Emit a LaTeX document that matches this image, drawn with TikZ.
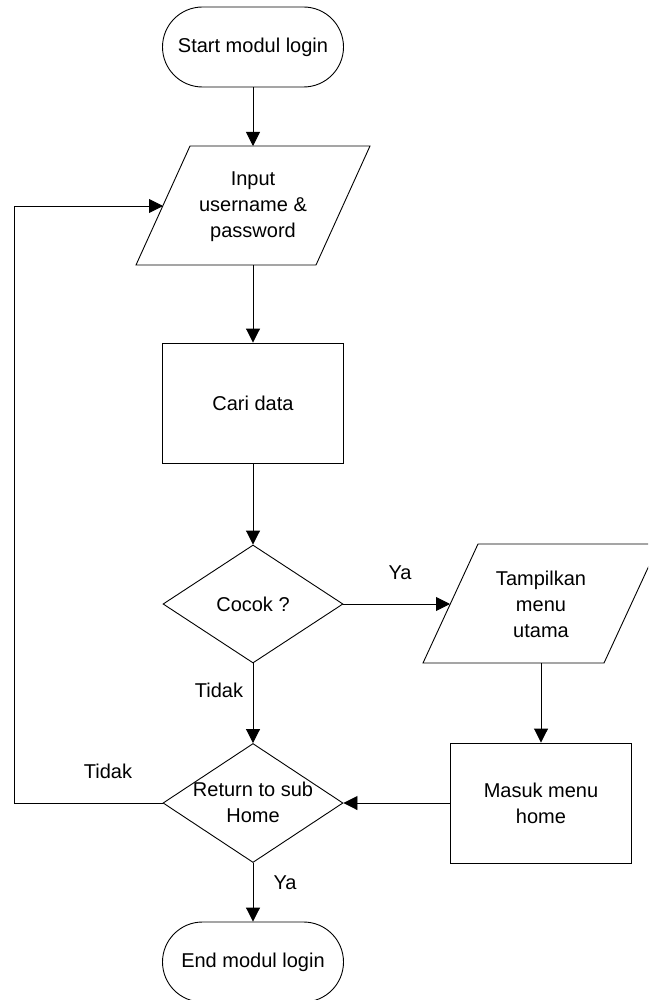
\documentclass[tikz,border=0pt]{standalone}
\usepackage{fontspec}
\setmainfont{Liberation Sans}
\usetikzlibrary{arrows.meta,shapes.geometric,shapes.misc}
\begin{document}
\begin{tikzpicture}[x=1pt,y=-1pt,
  every node/.style={font=\fontsize{20}{26}\selectfont, align=center, inner sep=0pt},
  outline/.style={draw=black, line width=0.9pt},
  term/.style={outline, rounded rectangle, minimum width=181pt, minimum height=80pt},
  proc/.style={outline, rectangle, minimum width=181pt, minimum height=120pt},
  dec/.style={outline, diamond, minimum width=180pt, minimum height=118pt},
  arr/.style={draw=black, line width=0.9pt, -{Triangle[length=14pt,width=14pt]}},
  conn/.style={draw=black, line width=0.9pt},
  lbl/.style={font=\fontsize{20}{24}\selectfont}
]
\useasboundingbox (0,0) rectangle (648,1000);
\clip (0,0) rectangle (648,1000);

% Start
\node[term] (start) at (253,47) {Start modul login};

% Input parallelogram
\draw[outline] (190,146) -- (370,146) -- (316,265) -- (136,265) -- cycle;
\node (input) at (253,207) {Input\\username \&\\password};
\coordinate (inTop) at (253,146);
\coordinate (inBot) at (253,265);
\coordinate (inLeft) at (163,206);

% Cari data
\node[proc] (cari) at (253,403) {Cari data};

% Cocok decision
\node[dec] (cocok) at (253,604) {};
\node (cocokT) at (cocok.center) {Cocok ?};

% Tampilkan parallelogram
\draw[outline] (478,544) -- (659,544) -- (604,663) -- (423,663) -- cycle;
\node (tampil) at (541,604) {Tampilkan\\menu\\utama};
\coordinate (tamLeft) at (450,604);
\coordinate (tamBot) at (541,663);

% Masuk menu home
\node[proc] (masuk) at (541,803) {Masuk menu\\home};

% Return decision
\node[dec, minimum height=119pt] (ret) at (253,803) {};
\node (retT) at (253,802) {Return to sub\\Home};

% End
\node[term] (end) at (253,962) {End modul login};

% Connectors
\draw[arr] (start.south) -- (inTop);
\draw[arr] (inBot) -- (cari.north);
\draw[arr] (cari.south) -- (cocok.north);
\draw[arr] (cocok.east) -- (tamLeft);
\draw[arr] (tamBot) -- (masuk.north);
\draw[arr] (masuk.west) -- (ret.east);
\draw[arr] (cocok.south) -- (ret.north);
\draw[arr] (ret.south) -- (end.north);
\coordinate (loopB) at (14,803);
\coordinate (loopT) at (14,206);
\draw[arr] (ret.west) -- (loopB) -- (loopT) -- (inLeft);

% Labels
\node[lbl] (ya1) at (400,573) {Ya};
\node[lbl] (tidak1) at (219,690) {Tidak};
\node[lbl] (tidak2) at (108,771) {Tidak};
\node[lbl] (ya2) at (285,883) {Ya};
\end{tikzpicture}
\end{document}
